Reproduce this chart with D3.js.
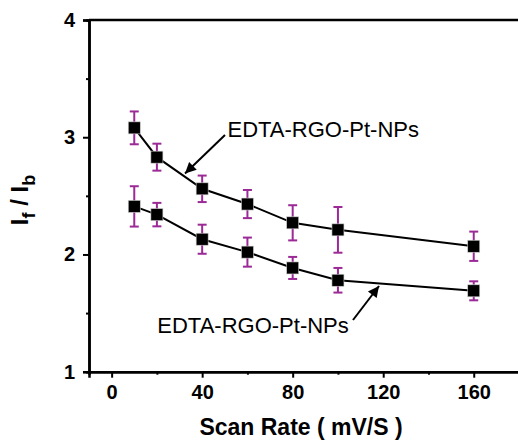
<!DOCTYPE html>
<html><head><meta charset="utf-8">
<script src="https://cdn.jsdelivr.net/npm/d3@7"></script>
<style>body{margin:0;background:#fff}svg{display:block}</style>
</head><body>
<script>
const scanRates = [10, 20, 40, 60, 80, 100, 160];
const seriesUpper = [3.08, 2.83, 2.56, 2.43, 2.27, 2.21, 2.07];
const errUpper = [0.14, 0.115, 0.113, 0.12, 0.15, 0.195, 0.125];
const seriesLower = [2.41, 2.34, 2.13, 2.02, 1.885, 1.78, 1.69];
const errLower = [0.172, 0.1, 0.124, 0.124, 0.094, 0.105, 0.081];
const xTicks = [0, 40, 80, 120, 160];
const xMinor = [20, 60, 100, 140];
const yTicks = [1, 2, 3, 4];
const yMinor = [1.5, 2.5, 3.5];
const labelText = "EDTA-RGO-Pt-NPs";

const W = 518, H = 441;
const svg = d3.select("body").append("svg").attr("width", W).attr("height", H);
const x = d3.scaleLinear().domain([-10, 180]).range([89, 519]);
const y = d3.scaleLinear().domain([1, 4]).range([371.7, 20]);
const font = "Arial, 'Liberation Sans', Helvetica, sans-serif";

// axes
const xAxis = svg.append("g").attr("transform", `translate(0,${y(1)})`)
  .call(d3.axisBottom(x).tickValues(xTicks).tickSize(6).tickPadding(6).tickFormat(d3.format("d")));
const xAxisMinor = svg.append("g").attr("transform", `translate(0,${y(1)})`)
  .call(d3.axisBottom(x).tickValues(xMinor).tickSize(3).tickFormat(""));
const yAxis = svg.append("g").attr("transform", `translate(${x(-10)},0)`)
  .call(d3.axisLeft(y).tickValues(yTicks).tickSize(6).tickPadding(8).tickFormat(d3.format("d")));
const yAxisMinor = svg.append("g").attr("transform", `translate(${x(-10)},0)`)
  .call(d3.axisLeft(y).tickValues(yMinor).tickSize(3).tickFormat(""));
[xAxis, xAxisMinor, yAxis, yAxisMinor].forEach(g => {
  g.select(".domain").attr("stroke", "#000").attr("stroke-width", 2.5);
  g.selectAll(".tick line").attr("stroke", "#000").attr("stroke-width", 2);
  g.selectAll(".tick text").attr("fill", "#000").style("font-family", font)
    .style("font-size", "20px").style("font-weight", "bold");
});
xAxis.selectAll(".tick text").attr("dy", "0.78em");
// top border
svg.append("line").attr("x1", x(-10)).attr("x2", x(180)).attr("y1", y(4)).attr("y2", y(4))
  .attr("stroke", "#000").attr("stroke-width", 2.5);

// series
const errColor = "#9b2a96";
function drawSeries(vals, errs) {
  const pts = scanRates.map((r, i) => ({x: r, y: vals[i], e: errs[i]}));
  svg.append("path").datum(pts)
    .attr("d", d3.line().x(d => x(d.x)).y(d => y(d.y)))
    .attr("fill", "none").attr("stroke", "#000").attr("stroke-width", 2);
  const g = svg.append("g");
  pts.forEach(d => {
    const cx = x(d.x);
    g.append("line").attr("x1", cx).attr("x2", cx).attr("y1", y(d.y + d.e)).attr("y2", y(d.y - d.e))
      .attr("stroke", errColor).attr("stroke-width", 2);
    [d.y + d.e, d.y - d.e].forEach(v => {
      g.append("line").attr("x1", cx - 4.5).attr("x2", cx + 4.5).attr("y1", y(v)).attr("y2", y(v))
        .attr("stroke", errColor).attr("stroke-width", 2);
    });
  });
  pts.forEach(d => {
    g.append("rect").attr("x", x(d.x) - 6).attr("y", y(d.y) - 6).attr("width", 12).attr("height", 12)
      .attr("fill", "#000").attr("stroke", "#ccc").attr("stroke-width", 0.6);
  });
}
drawSeries(seriesUpper, errUpper);
drawSeries(seriesLower, errLower);

// annotations
svg.append("defs").append("marker").attr("id", "ah").attr("viewBox", "0 0 10 10")
  .attr("refX", 10).attr("refY", 5).attr("markerWidth", 14).attr("markerHeight", 11)
  .attr("markerUnits", "userSpaceOnUse").attr("orient", "auto")
  .append("path").attr("d", "M0,0 L10,5 L0,10 Z").attr("fill", "#000");
function arrow(x1, y1, x2, y2) {
  svg.append("line").attr("x1", x1).attr("y1", y1).attr("x2", x2).attr("y2", y2)
    .attr("stroke", "#000").attr("stroke-width", 2).attr("marker-end", "url(#ah)");
}
arrow(225, 135, 185, 173.5);
arrow(353, 320, 379, 286);
svg.append("text").attr("x", 227.5).attr("y", 136.7).text(labelText)
  .style("font-family", font).style("font-size", "22px").attr("fill", "#000");
svg.append("text").attr("x", 157.3).attr("y", 332.5).text(labelText)
  .style("font-family", font).style("font-size", "22px").attr("fill", "#000");

// axis titles
svg.append("text").attr("x", 301).attr("y", 435).attr("text-anchor", "middle")
  .text("Scan Rate ( mV/S )").style("font-family", font).style("font-size", "23px")
  .style("font-weight", "bold").attr("fill", "#000");
const yt = svg.append("text").attr("transform", "translate(28,200) rotate(-90)")
  .attr("text-anchor", "middle").style("font-family", font).style("font-size", "24px")
  .style("font-weight", "bold").attr("fill", "#000");
yt.append("tspan").text("I");
yt.append("tspan").text("f").attr("dy", 7).style("font-size", "18px");
yt.append("tspan").text(" / I").attr("dy", -7);
yt.append("tspan").text("b").attr("dy", 7).style("font-size", "18px");
</script>
</body></html>
